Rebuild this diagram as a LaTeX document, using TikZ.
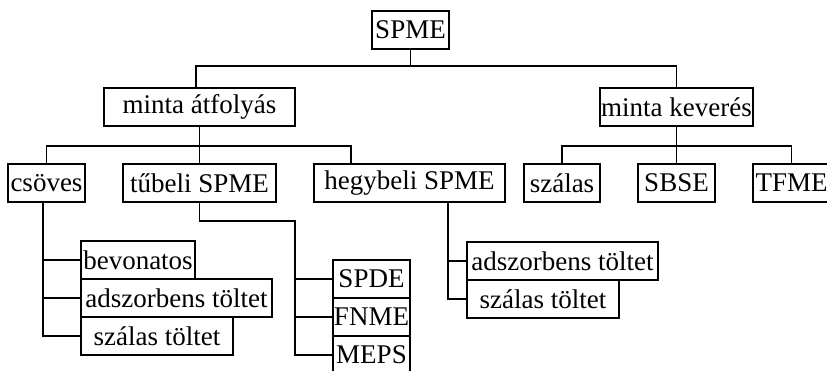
\documentclass[tikz,border=0pt]{standalone}
\usepackage{fontspec}
\setmainfont{Liberation Serif}
\usetikzlibrary{calc}
\begin{document}
\begin{tikzpicture}[x=1pt,y=-1pt,
  box/.style={draw, line width=1.8pt, inner sep=0pt, minimum height=38pt,
    font=\fontsize{27}{30}\selectfont},
  link/.style={line width=1.8pt}]
\useasboundingbox (0,0) rectangle (827,371);

% level 0
\node[box, minimum width=77pt]  (spme)    at (410.5,30)  {SPME};
% level 1
\node[box, minimum width=191pt] (mintaA)  at (199.5,107) {minta átfolyás};
\node[box, minimum width=153pt] (mintaK)  at (676.5,107) {minta keverés};
% level 2
\node[box, minimum width=77pt]  (csoves)  at (46.5,183)  {csöves};
\node[box, minimum width=153pt] (tubeli)  at (199.5,183) {tűbeli SPME};
\node[box, minimum width=191pt] (hegy)    at (409.5,183) {hegybeli SPME};
\node[box, minimum width=76pt]  (szalas)  at (562,183)   {szálas};
\node[box, minimum width=77pt]  (sbse)    at (676.5,183) {SBSE};
\node[box, minimum width=77pt]  (tfme)    at (791.5,183) {TFME};
% level 3
\node[box, minimum width=114pt] (bevon)   at (138,260)   {bevonatos};
\node[box, minimum width=191pt] (adszA)   at (176.5,298) {adszorbens töltet};
\node[box, minimum width=152pt] (szalA)   at (157,336)   {szálas töltet};
\node[box, minimum width=77pt]  (spde)    at (371.5,279) {SPDE};
\node[box, minimum width=77pt]  (fnme)    at (371.5,317) {FNME};
\node[box, minimum width=77pt]  (meps)    at (371.5,355) {MEPS};
\node[box, minimum width=191pt] (adszB)   at (562.5,261) {adszorbens töltet};
\node[box, minimum width=152pt] (szalB)   at (543,299)   {szálas töltet};

% junction points of the tree
\coordinate (j0) at ($(spme.south)+(0,16)$);
\coordinate (j1) at ($(mintaA.south)+(0,19)$);
\coordinate (j2) at ($(mintaK.south)+(0,19)$);
\coordinate (mintaAin) at ($(mintaA.north)+(-3.5,0)$);
\coordinate (hegyin) at ($(hegy.north west)+(38,0)$);
\coordinate (c1) at ($(csoves.south)+(-3.5,0)$);
\coordinate (t1) at (295,221);
\coordinate (h1) at ($(hegy.south)+(38.5,0)$);

% SPME -> two sampling modes
\draw[link] (spme.south) -- (j0);
\draw[link] (mintaAin) |- (j0) -| (mintaK.north);

% minta átfolyás -> its three variants
\draw[link] (mintaA.south) -- (j1);
\draw[link] (csoves.north) |- (j1) -| (hegyin);
\draw[link] (tubeli.north) -- (j1);

% minta keverés -> its three variants
\draw[link] (mintaK.south) -- (j2);
\draw[link] (szalas.north) |- (j2) -| (tfme.north);
\draw[link] (sbse.north) -- (j2);

% csöves -> sub-types
\draw[link] (c1) |- (szalA.west);
\draw[link] (bevon.west) -- (bevon.west -| c1);
\draw[link] (adszA.west) -- (adszA.west -| c1);

% tűbeli SPME -> sub-types
\draw[link] (tubeli.south) |- (t1) |- (meps.west);
\draw[link] (spde.west) -- (spde.west -| t1);
\draw[link] (fnme.west) -- (fnme.west -| t1);

% hegybeli SPME -> sub-types
\draw[link] (h1) |- (szalB.west);
\draw[link] (adszB.west) -- (adszB.west -| h1);
\end{tikzpicture}
\end{document}
